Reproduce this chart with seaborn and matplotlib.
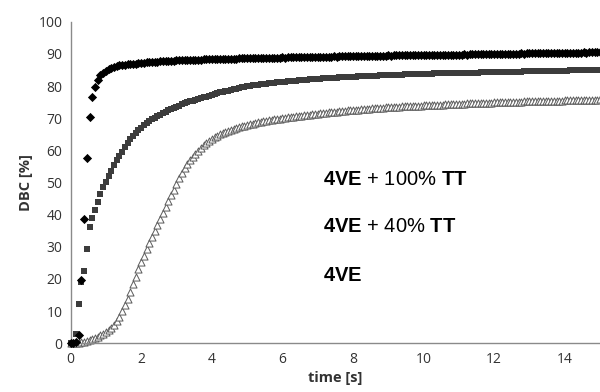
import numpy as np
import pandas as pd
import matplotlib
matplotlib.use("Agg")
import matplotlib.pyplot as plt
import seaborn as sns

# DBC [%], one sample every 1/13 s from 0 to 15 s (one row per second)
dbc_100tt = [
    0, 0, 0.4, 2.6, 19.8, 38.7, 57.6, 70.3, 76.5, 79.6, 81.9, 83.3, 84.2,
    84.8, 85.3, 85.7, 86.0, 86.2, 86.4, 86.5, 86.6, 86.7, 86.8, 86.9, 87.0, 87.1,
    87.2, 87.3, 87.4, 87.4, 87.5, 87.6, 87.6, 87.7, 87.7, 87.8, 87.8, 87.9, 87.9,
    88.0, 88.0, 88.0, 88.1, 88.1, 88.1, 88.2, 88.2, 88.2, 88.2, 88.3, 88.3, 88.3,
    88.3, 88.4, 88.4, 88.4, 88.4, 88.5, 88.5, 88.5, 88.5, 88.5, 88.6, 88.6, 88.6,
    88.6, 88.6, 88.7, 88.6, 88.7, 88.7, 88.7, 88.8, 88.7, 88.8, 88.8, 88.8, 88.8,
    88.9, 88.8, 88.9, 88.9, 88.9, 88.9, 89.0, 88.9, 89.0, 89.0, 89.0, 89.0, 89.0,
    89.1, 89.0, 89.1, 89.1, 89.1, 89.1, 89.2, 89.1, 89.2, 89.2, 89.2, 89.2, 89.2,
    89.3, 89.2, 89.3, 89.3, 89.3, 89.3, 89.4, 89.3, 89.4, 89.4, 89.4, 89.4, 89.4,
    89.5, 89.4, 89.5, 89.5, 89.5, 89.5, 89.5, 89.5, 89.6, 89.5, 89.6, 89.6, 89.6,
    89.6, 89.7, 89.6, 89.7, 89.7, 89.7, 89.7, 89.7, 89.8, 89.7, 89.8, 89.8, 89.8,
    89.8, 89.8, 89.9, 89.8, 89.9, 89.9, 89.9, 89.9, 89.9, 90.0, 89.9, 90.0, 90.0,
    90.0, 90.0, 90.0, 90.1, 90.0, 90.1, 90.1, 90.1, 90.1, 90.1, 90.2, 90.1, 90.2,
    90.2, 90.2, 90.2, 90.2, 90.3, 90.2, 90.3, 90.3, 90.3, 90.3, 90.3, 90.3, 90.4,
    90.3, 90.4, 90.4, 90.4, 90.4, 90.4, 90.4, 90.5, 90.4, 90.5, 90.5, 90.5, 90.5,
    90.5,
]

dbc_40tt = [
    0, 0, 2.8, 12.2, 19.2, 22.6, 29.2, 36.1, 39.1, 41.6, 44.0, 46.3, 48.5,
    50.3, 52.0, 53.7, 55.3, 56.9, 58.3, 59.6, 60.9, 62.4, 63.5, 64.5, 65.4, 66.3,
    67.1, 67.8, 68.4, 69.0, 69.6, 70.1, 70.6, 71.1, 71.6, 72.0, 72.4, 72.8, 73.2,
    73.6, 73.9, 74.3, 74.6, 74.9, 75.2, 75.5, 75.8, 76.0, 76.3, 76.5, 76.7, 77.0,
    77.3, 77.5, 77.8, 78.0, 78.2, 78.4, 78.6, 78.8, 79.0, 79.2, 79.4, 79.6, 79.7,
    79.9, 80.0, 80.2, 80.3, 80.4, 80.5, 80.6, 80.7, 80.8, 80.9, 81.0, 81.1, 81.2,
    81.3, 81.4, 81.5, 81.6, 81.6, 81.7, 81.8, 81.9, 81.9, 82.0, 82.1, 82.1, 82.2,
    82.3, 82.3, 82.4, 82.4, 82.5, 82.5, 82.6, 82.6, 82.7, 82.7, 82.8, 82.8, 82.8,
    82.9, 82.9, 83.0, 83.0, 83.1, 83.1, 83.1, 83.2, 83.2, 83.2, 83.3, 83.3, 83.3,
    83.4, 83.4, 83.4, 83.5, 83.5, 83.5, 83.6, 83.6, 83.6, 83.6, 83.7, 83.7, 83.7,
    83.8, 83.8, 83.8, 83.8, 83.9, 83.9, 83.9, 83.9, 84.0, 84.0, 84.0, 84.0, 84.1,
    84.1, 84.1, 84.1, 84.2, 84.2, 84.2, 84.2, 84.2, 84.3, 84.3, 84.3, 84.3, 84.3,
    84.4, 84.4, 84.4, 84.4, 84.4, 84.5, 84.5, 84.5, 84.5, 84.5, 84.5, 84.6, 84.6,
    84.6, 84.6, 84.6, 84.7, 84.7, 84.7, 84.7, 84.7, 84.7, 84.8, 84.8, 84.8, 84.8,
    84.8, 84.8, 84.9, 84.9, 84.9, 84.9, 84.9, 84.9, 85.0, 85.0, 85.0, 85.0, 85.0,
    85.0,
]

dbc_4ve = [
    0, 0, 0.1, 0.2, 0.3, 0.5, 0.7, 1.0, 1.3, 1.7, 2.1, 2.5, 3.0,
    3.5, 4.1, 4.8, 5.7, 6.8, 8.2, 9.9, 11.8, 13.9, 16.1, 18.4, 20.7, 23.0,
    25.3, 27.3, 29.2, 31.1, 33.0, 34.9, 36.8, 38.7, 40.6, 42.4, 44.2, 46.0, 47.8,
    49.6, 51.3, 52.9, 54.4, 55.7, 56.9, 58.0, 59.0, 59.9, 60.8, 61.6, 62.3, 63.0,
    63.6, 64.1, 64.6, 65.0, 65.4, 65.8, 66.1, 66.4, 66.7, 67.0, 67.2, 67.5, 67.7,
    67.9, 68.1, 68.3, 68.5, 68.7, 68.9, 69.0, 69.2, 69.3, 69.5, 69.6, 69.8, 69.9,
    70.0, 70.1, 70.3, 70.4, 70.5, 70.6, 70.7, 70.8, 70.9, 71.0, 71.1, 71.2, 71.3,
    71.4, 71.5, 71.6, 71.7, 71.8, 71.9, 72.0, 72.0, 72.1, 72.2, 72.3, 72.4, 72.5,
    72.6, 72.7, 72.7, 72.8, 72.9, 72.9, 73.0, 73.1, 73.1, 73.2, 73.3, 73.3, 73.4,
    73.4, 73.5, 73.5, 73.6, 73.6, 73.7, 73.7, 73.7, 73.8, 73.8, 73.9, 73.9, 73.9,
    74.0, 74.0, 74.1, 74.1, 74.1, 74.2, 74.2, 74.2, 74.3, 74.3, 74.3, 74.4, 74.4,
    74.5, 74.5, 74.5, 74.6, 74.6, 74.6, 74.7, 74.7, 74.7, 74.7, 74.8, 74.8, 74.8,
    74.9, 74.9, 74.9, 75.0, 75.0, 75.0, 75.0, 75.1, 75.1, 75.1, 75.1, 75.2, 75.2,
    75.2, 75.3, 75.3, 75.3, 75.3, 75.4, 75.4, 75.4, 75.4, 75.5, 75.5, 75.5, 75.5,
    75.6, 75.6, 75.6, 75.6, 75.7, 75.7, 75.7, 75.7, 75.7, 75.8, 75.8, 75.8, 75.8,
    75.9,
]

labels = ["4VE + 100% TT", "4VE + 40% TT", "4VE"]
label_y = [51.0, 36.3, 21.2]

# samples are 1/13 s apart
time_s = np.arange(len(dbc_100tt)) / 13

df = pd.DataFrame({"time": time_s, "tt100": dbc_100tt, "tt40": dbc_40tt, "ve": dbc_4ve})

sns.set_style("white")
plt.rcParams["mathtext.fontset"] = "custom"
plt.rcParams["mathtext.bf"] = "Liberation Sans:bold"
plt.rcParams["mathtext.rm"] = "Liberation Sans"

fig = plt.figure(figsize=(6, 3.92), dpi=100)
ax = fig.add_axes([0.1177, 0.1242, 0.8823, 0.8204])

sns.scatterplot(data=df, x="time", y="ve", marker="^", s=26, facecolor="white",
                edgecolor="#5a5a5a", linewidth=0.7, ax=ax, zorder=2, clip_on=False)
sns.scatterplot(data=df, x="time", y="tt40", marker="s", s=22, color="#3c3c3c",
                linewidth=0, ax=ax, zorder=3, clip_on=False)
sns.scatterplot(data=df, x="time", y="tt100", marker="D", s=22, color="black",
                linewidth=0, ax=ax, zorder=4, clip_on=False)

ax.set_xlim(0, 15)
ax.set_ylim(0, 100)
ax.set_xticks(range(0, 15, 2))
ax.set_xticks(np.arange(0, 15.01, 0.4), minor=True)
ax.set_yticks(range(0, 101, 10))
ax.set_yticks(range(0, 101, 2), minor=True)

for side in ["top", "right"]:
    ax.spines[side].set_visible(False)
for side in ["left", "bottom"]:
    ax.spines[side].set_color("#8a8a8a")
    ax.spines[side].set_linewidth(1.0)

ax.tick_params(which="major", direction="inout", length=6, width=0.8, color="#8a8a8a",
               labelsize=10, labelcolor="#333333", pad=3)
ax.tick_params(which="minor", direction="out", length=3, width=0.8, color="#8a8a8a")
for lab in ax.get_xticklabels() + ax.get_yticklabels():
    lab.set_fontfamily("Open Sans")

ax.set_xlabel("time [s]", fontsize=10.5, fontweight="bold", fontfamily="Open Sans",
              color="#333333", labelpad=3)
ax.set_ylabel("DBC [%]", fontsize=10.5, fontweight="bold", fontfamily="Open Sans",
              color="#333333", labelpad=4)

mixed = [r"$\mathbf{4VE}$ + 100% $\mathbf{TT}$", r"$\mathbf{4VE}$ + 40% $\mathbf{TT}$",
         r"$\mathbf{4VE}$"]
for txt, yv in zip(mixed, label_y):
    ax.text(7.16, yv, txt, fontsize=14.5, fontfamily="Liberation Sans", va="center",
            ha="left", color="black")

fig.savefig("out.png", dpi=100)
